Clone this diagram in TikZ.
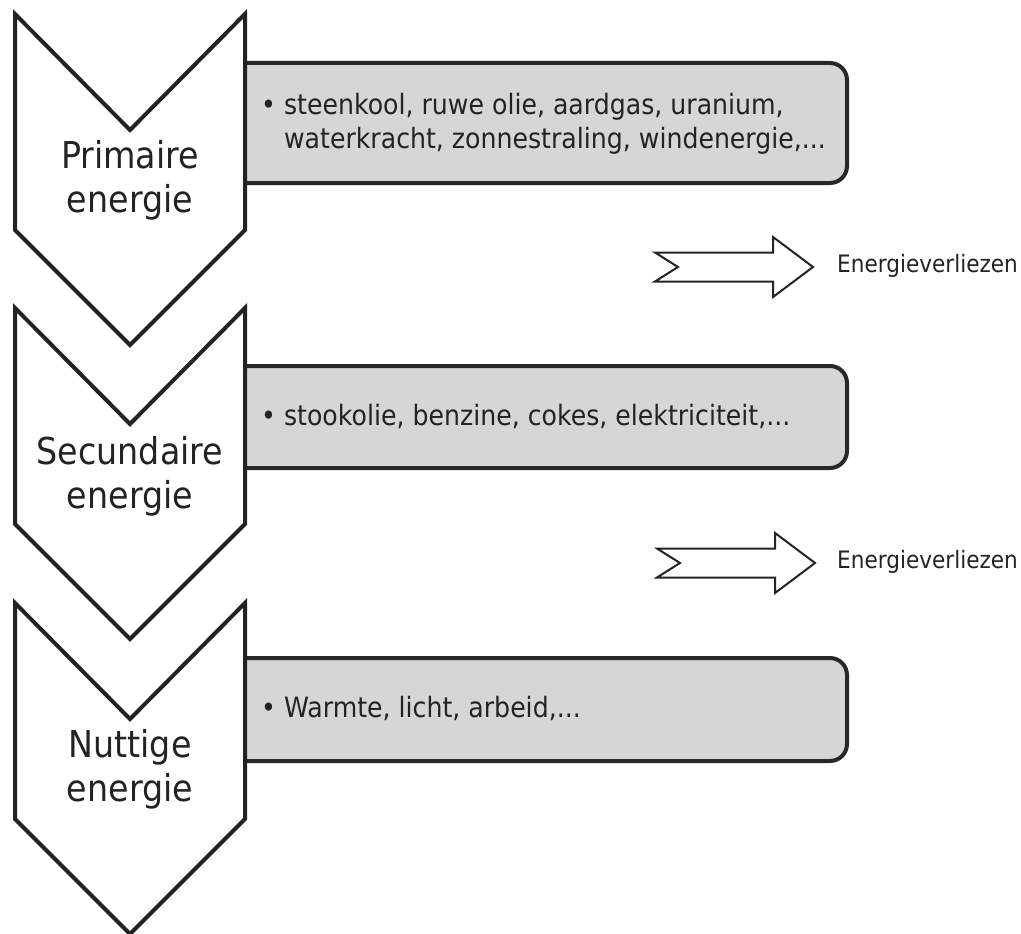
\documentclass[tikz,border=0pt]{standalone}
\usepackage{fontspec}
\setmainfont{DejaVu Sans}[FakeStretch=0.9]
\definecolor{ink}{RGB}{35,35,35}
\definecolor{boxfill}{RGB}{214,214,214}
\definecolor{boxline}{RGB}{40,40,40}
\tikzset{
  chevfill/.pic={\fill[white] (15,0) -- (130,116) -- (245,0) -- (245,216) -- (130,331) -- (15,216) -- cycle;},
  chevline/.pic={\draw[line width=4pt,ink] (15,0) -- (130,116) -- (245,0) -- (245,216) -- (130,331) -- (15,216) -- cycle;},
  lossarrow/.pic={\draw[line width=2pt,ink,fill=white] (0,-14.5) -- (118,-14.5) -- (118,-30) -- (158,0) -- (118,30) -- (118,14.5) -- (0,14.5) -- (23,0) -- cycle;},
  infobox/.style={line width=4pt,draw=boxline,fill=boxfill,rounded corners=17pt},
  lbl/.style={inner sep=0pt,text=ink,align=center,font=\fontsize{37}{44}\selectfont},
  body/.style={inner sep=0pt,text=ink,align=left,font=\fontsize{28}{34}\selectfont},
  loss/.style={inner sep=0pt,text=ink,font=\fontsize{24}{28}\selectfont}
}
\begin{document}
\begin{tikzpicture}[x=1pt,y=-1pt]
\useasboundingbox (0,0) rectangle (1021,934);
% boxes
\draw[infobox] (200,63) -- (847,63) -- (847,183) -- (200,183) -- cycle;
\draw[infobox] (200,366) -- (847,366) -- (847,468) -- (200,468) -- cycle;
\draw[infobox] (200,658) -- (847,658) -- (847,761) -- (200,761) -- cycle;
% chevrons
\pic at (0,14) {chevfill};
\pic at (0,308) {chevfill};
\pic at (0,603) {chevfill};
\pic at (0,14) {chevline};
\pic at (0,308) {chevline};
\pic at (0,603) {chevline};
% labels (base anchor = last line's baseline)
\node[lbl,anchor=base] (prim) at (130,212) {Primaire\\energie};
\node[lbl,anchor=base] (sec) at (130,508) {Secundaire\\energie};
\node[lbl,anchor=base] (nut) at (130,801) {Nuttige\\energie};
% box texts
\node[body,anchor=base west] (t1) at (261,148) {• steenkool, ruwe olie, aardgas, uranium,\\\phantom{• }waterkracht, zonnestraling, windenergie,...};
\node[body,anchor=base west] (t2) at (261,425) {• stookolie, benzine, cokes, elektriciteit,...};
\node[body,anchor=base west] (t3) at (261,717) {• Warmte, licht, arbeid,...};
% losses
\pic at (655,267) {lossarrow};
\pic at (657,563) {lossarrow};
\node[loss,anchor=base west] (v1) at (837,272) {Energieverliezen};
\node[loss,anchor=base west] (v2) at (837,568) {Energieverliezen};
\end{tikzpicture}
\end{document}
